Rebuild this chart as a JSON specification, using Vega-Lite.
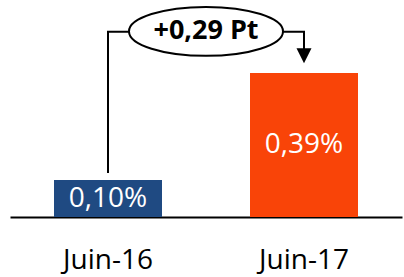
{
  "$schema": "https://vega.github.io/schema/vega-lite/v6.json",
  "width": 392,
  "height": 217,
  "autosize": "none",
  "padding": {"left": 10, "right": 2, "top": 0, "bottom": 60},
  "background": "white",
  "config": {"view": {"stroke": null}, "font": "Open Sans"},
  "layer": [
    {
      "data": {"values": [
        {"period": "Juin-16", "v": 0.10, "label": "0,10%"},
        {"period": "Juin-17", "v": 0.39, "label": "0,39%"}
      ]},
      "layer": [
        {
          "mark": {"type": "bar"},
          "encoding": {
            "x": {"field": "period", "type": "nominal", "sort": null,
              "scale": {"paddingInner": 0.449, "paddingOuter": 0.2245},
              "axis": {"title": null, "labelAngle": 0, "ticks": false, "domainColor": "#000000", "domainWidth": 2,
                "labelFont": "Open Sans", "labelFontSize": 28, "labelColor": "#000000", "labelPadding": 51, "labelBaseline": "alphabetic"}},
            "y": {"field": "v", "type": "quantitative", "scale": {"domain": [0, 0.5877], "nice": false, "zero": true}, "axis": null},
            "color": {"field": "period", "type": "nominal", "scale": {"domain": ["Juin-16", "Juin-17"], "range": ["#1F4A82", "#F94408"]}, "legend": null}
          }
        },
        {
          "mark": {"type": "text", "color": "#FFFFFF", "font": "Open Sans", "fontSize": 28, "baseline": "middle", "align": "center"},
          "encoding": {
            "x": {"field": "period", "type": "nominal", "sort": null, "scale": {"paddingInner": 0.449, "paddingOuter": 0.2245}, "axis": null},
            "y": {"field": "v", "type": "quantitative", "scale": {"domain": [0, 1.1754], "nice": false, "zero": true}, "axis": null},
            "text": {"field": "label"}
          }
        }
      ],
      "resolve": {"scale": {"y": "independent", "x": "independent"}}
    },
    {
      "data": {"values": [
        {"o": 1, "px": 0.5, "py": 0.119},
        {"o": 2, "px": 0.5, "py": 0.502},
        {"o": 3, "px": 1.5, "py": 0.502},
        {"o": 4, "px": 1.5, "py": 0.45}
      ]},
      "mark": {"type": "line", "color": "#000000", "strokeWidth": 2, "strokeCap": "butt", "strokeJoin": "miter"},
      "encoding": {
        "x": {"field": "px", "type": "quantitative", "scale": {"domain": [0, 2], "nice": false, "zero": false}, "axis": null},
        "y": {"field": "py", "type": "quantitative", "scale": {"domain": [0, 0.5877], "nice": false, "zero": true}, "axis": null},
        "order": {"field": "o"}
      }
    },
    {
      "data": {"values": [{"px": 1.5, "py": 0.437}]},
      "mark": {"type": "point", "shape": "M -1 -1 L 1 -1 L 0 1 Z", "size": 225, "filled": true, "color": "#000000", "opacity": 1},
      "encoding": {
        "x": {"field": "px", "type": "quantitative", "scale": {"domain": [0, 2], "nice": false, "zero": false}, "axis": null},
        "y": {"field": "py", "type": "quantitative", "scale": {"domain": [0, 0.5877], "nice": false, "zero": true}, "axis": null}
      }
    },
    {
      "data": {"values": [{"px": 1.0, "py": 0.5027, "label": "+0,29 Pt"}]},
      "layer": [
        {
          "mark": {"type": "point", "shape": "M -1 0 A 1 0.318 0 1 1 1 0 A 1 0.318 0 1 1 -1 0 Z", "size": 23716, "filled": false, "fill": "#FFFFFF", "fillOpacity": 1, "stroke": "#000000", "strokeWidth": 2, "opacity": 1},
          "encoding": {
            "x": {"field": "px", "type": "quantitative", "scale": {"domain": [0, 2], "nice": false, "zero": false}, "axis": null},
            "y": {"field": "py", "type": "quantitative", "scale": {"domain": [0, 0.5877], "nice": false, "zero": true}, "axis": null}
          }
        },
        {
          "mark": {"type": "text", "color": "#000000", "font": "Open Sans", "fontWeight": "bold", "fontSize": 27, "baseline": "middle", "align": "center"},
          "encoding": {
            "x": {"field": "px", "type": "quantitative", "scale": {"domain": [0, 2], "nice": false, "zero": false}, "axis": null},
            "y": {"field": "py", "type": "quantitative", "scale": {"domain": [0, 0.5877], "nice": false, "zero": true}, "axis": null},
            "text": {"field": "label"}
          }
        }
      ]
    }
  ],
  "resolve": {"scale": {"x": "independent", "y": "independent"}}
}
